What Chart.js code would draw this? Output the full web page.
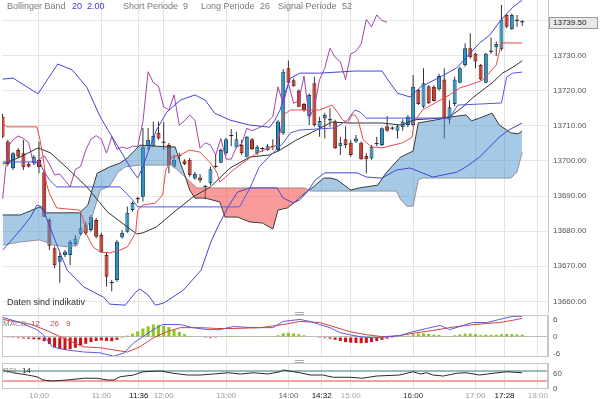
<!DOCTYPE html>
<html><head><meta charset="utf-8">
<script src="https://cdn.jsdelivr.net/npm/chart.js@4.4.1/dist/chart.umd.min.js"></script>
<style>
html,body{margin:0;padding:0;background:#fff;width:600px;height:399px;overflow:hidden;font-family:"Liberation Sans",Arial,sans-serif;}
#wrap{position:relative;width:600px;height:399px;}
canvas{position:absolute;left:0;}
.t{position:absolute;font-size:9px;line-height:9px;white-space:nowrap;color:#7a7a7a;}
.s{position:absolute;font-size:8px;line-height:8px;white-space:nowrap;color:#8a8a8a;}
.b{color:#3b3bd0;}
.grip{position:absolute;left:295px;width:9px;height:1px;border-top:1px solid #aaa;border-bottom:1px solid #aaa;background:#fff;}
#price{position:absolute;left:549px;top:17px;width:44px;height:10px;border:1px solid #9a9a9a;background:#e9e9e9;font-size:8px;line-height:10px;color:#222;padding-left:3px;}
</style></head><body>
<div id="wrap">
<canvas id="main" width="600" height="313" style="top:0"></canvas>
<canvas id="macd" width="600" height="42" style="top:315px"></canvas>
<canvas id="rsi" width="600" height="36" style="top:363px"></canvas>

<div class="t" style="left:7px;top:2px">Bollinger Band</div>
<div class="t b" style="left:72px;top:2px">20</div>
<div class="t b" style="left:87px;top:2px">2.00</div>
<div class="t" style="left:123px;top:2px">Short Periode</div>
<div class="t" style="left:183px;top:2px">9</div>
<div class="t" style="left:201px;top:2px">Long Periode</div>
<div class="t" style="left:260px;top:2px">26</div>
<div class="t" style="left:278px;top:2px">Signal Periode</div>
<div class="t" style="left:342px;top:2px">52</div>
<div class="t" style="left:7px;top:298px;color:#333">Daten sind indikativ</div>
<div class="s" style="left:3px;top:320px">MACD</div>
<div class="s" style="left:31px;top:320px;color:#d04848">12</div>
<div class="s" style="left:50px;top:320px;color:#d04848">26</div>
<div class="s" style="left:66px;top:320px;color:#d04848">9</div>
<div class="s" style="left:3px;top:367px">RSI</div>
<div class="s" style="left:22px;top:367px;color:#333">14</div>
<div class="grip" style="top:312px"></div>
<div class="grip" style="top:360px"></div>
<div id="price">13739.50</div>
</div>
<script>
// ---------- DATA ----------
const times = ["09:25","09:30","09:35","09:40","09:45","09:50","09:55",
"10:00","10:05","10:10","10:15","10:20","10:25","10:30","10:35","10:40","10:45","10:50","10:55",
"11:00","11:05","11:10","11:15","11:20","11:25","11:30","11:35","11:40","11:45","11:50","11:55",
"12:00","12:05","12:10","12:15","12:20","12:25","12:30","12:35","12:40","12:45","12:50","12:55",
"13:00","13:05","13:10","13:15","13:20","13:25","13:30","13:35","13:40","13:45","13:50","13:55",
"14:00","14:05","14:10","14:15","14:20","14:25","14:30","14:35","14:40","14:45","14:50","14:55",
"15:00","15:05","15:10","15:15","15:20","15:25","15:30","15:35","15:40","15:45","15:50","15:55",
"16:00","16:05","16:10","16:15","16:20","16:25","16:30","16:35","16:40","16:45","16:50","16:55",
"17:00","17:05","17:10","17:15","17:20","17:25","17:30","17:35","17:40","17:45"];

const opens = [13712.6,13705.5,13697.9,13703.1,13702.2,13699.1,13699.3,13700.3,13696.8,13683.2,
13675.1,13671.3,13673.2,13673.2,13676.3,13679.2,13681.7,13680.3,13683.2,13678.9,
13673.2,13665.2,13666.1,13678.2,13679.8,13686.0,13689.1,13689.8,13704.2,13704.2,
13708.0,13705.3,13704.5,13698.3,13701.4,13700.1,13700.3,13695.0,13695.3,13692.7,
13693.6,13698.3,13699.5,13702.2,13707.1,13703.9,13704.5,13701.2,13706.2,13702.2,
13703.4,13703.1,13704.0,13703.1,13707.9,13726.4,13723.0,13720.0,13716.2,13712.8,
13722.1,13709.6,13712.1,13711.7,13711.2,13704.2,13706.2,13705.2,13705.5,13705.2,
13701.4,13700.7,13704.8,13704.5,13709.9,13709.3,13708.6,13709.6,13710.2,13710.2,
13720.2,13715.4,13721.3,13721.1,13720.4,13723.2,13711.7,13716.2,13722.3,13727.3,
13732.1,13730.5,13727.3,13722.3,13731.1,13732.4,13731.8,13741.6,13737.5,13739.9,
13739.5];
const highs = [13713.4,13706.0,13702.6,13703.7,13706.0,13699.7,13701.7,13705.5,13697.4,13683.7,
13675.6,13673.8,13674.6,13677.5,13678.9,13685.2,13682.7,13684.6,13683.7,13679.5,
13673.8,13666.1,13677.5,13680.3,13687.0,13688.4,13689.8,13709.4,13709.4,13711.2,
13711.2,13711.1,13705.1,13701.7,13702.3,13700.5,13700.8,13696.9,13696.3,13693.1,
13698.3,13702.0,13703.6,13706.5,13709.1,13708.3,13706.0,13707.1,13706.5,13704.5,
13703.9,13704.8,13706.2,13711.7,13726.2,13728.5,13723.5,13720.4,13716.6,13719.3,
13724.0,13712.6,13713.7,13715.0,13711.7,13706.9,13709.9,13706.0,13707.4,13705.5,
13702.2,13704.5,13706.9,13709.6,13712.8,13709.9,13710.2,13711.9,13713.1,13724.5,
13720.5,13726.4,13721.6,13721.6,13724.8,13726.4,13717.3,13724.0,13726.8,13733.5,
13736.4,13730.8,13727.6,13730.8,13735.2,13734.0,13744.4,13741.9,13741.9,13741.6,
13740.1];
const lows = [13706.5,13698.5,13697.4,13700.8,13697.4,13698.1,13698.8,13696.5,13684.0,13674.6,
13669.4,13665.3,13672.6,13670.3,13675.6,13678.6,13678.9,13679.8,13678.0,13673.8,
13664.2,13662.9,13665.6,13677.9,13679.5,13685.5,13688.0,13688.4,13703.1,13704.0,
13706.0,13703.1,13696.5,13697.9,13700.3,13698.8,13695.5,13694.6,13693.8,13689.1,
13693.1,13697.9,13699.3,13701.7,13704.2,13703.6,13701.7,13701.0,13703.1,13701.7,
13702.6,13702.9,13703.1,13702.6,13707.4,13722.1,13721.1,13715.3,13714.0,13710.2,
13709.7,13706.9,13706.4,13709.7,13703.4,13701.7,13703.6,13701.2,13705.1,13700.3,
13696.5,13700.3,13704.2,13704.2,13708.3,13708.8,13706.4,13708.6,13709.6,13709.7,
13715.9,13715.0,13716.2,13716.9,13720.0,13706.4,13710.5,13715.6,13722.1,13726.8,
13729.2,13726.4,13723.0,13722.1,13730.5,13729.9,13731.4,13737.8,13737.3,13738.2,
13738.4];
const closes = [13706.9,13699.1,13702.2,13701.2,13698.2,13698.3,13701.2,13698.2,13684.1,13675.8,
13670.3,13672.9,13674.1,13677.0,13677.9,13680.8,13679.4,13684.1,13678.4,13674.1,
13667.0,13665.3,13677.0,13679.5,13685.2,13688.0,13689.2,13704.0,13706.0,13707.1,
13706.4,13705.2,13698.8,13700.3,13701.5,13699.1,13696.0,13696.3,13694.4,13692.6,
13697.6,13698.4,13703.1,13706.2,13707.2,13706.2,13702.2,13706.9,13703.3,13704.0,
13703.5,13704.2,13704.1,13711.2,13725.4,13722.3,13721.3,13715.4,13714.5,13718.8,
13710.2,13711.4,13713.1,13711.6,13703.6,13705.2,13704.5,13701.7,13706.4,13700.5,
13700.5,13704.0,13704.9,13709.3,13708.6,13709.2,13709.9,13711.2,13712.6,13721.1,
13716.2,13722.1,13716.4,13717.1,13724.2,13712.1,13715.3,13723.2,13726.4,13732.1,
13729.5,13728.3,13723.2,13730.5,13731.2,13733.3,13740.3,13738.2,13741.6,13740.0,
13739.5];

// Chikou span (lagging line, plotted from 09:25 onward)
const chikou = [13689.2,13704.0,13706.0,13707.1,13706.4,13705.2,13698.8,13700.3,13701.5,13699.1,
13696.0,13696.3,13694.4,13692.6,13697.6,13698.4,13703.1,13706.2,13707.2,13706.2,
13702.2,13706.9,13703.3,13704.0,13703.5,13704.2,13704.1,13711.2,13725.4,13722.3,
13721.3,13715.4,13714.5,13718.8,13710.2,13711.4,13713.1,13711.6,13703.6,13705.2,
13704.5,13701.7,13706.4,13700.5,13700.5,13704.0,13704.9,13709.3,13708.6,13709.2,
13709.9,13711.2,13712.6,13721.1,13716.2,13722.1,13716.4,13717.1,13724.2,13712.1,
13715.3,13723.2,13726.4,13732.1,13729.5,13728.3,13723.2,13730.5,13731.2,13733.3,
13740.3,13738.2,13741.6,13740.0,13739.5];

// line series: time in minutes after midnight, value
const bbUpperMin = [565,575,599,618,632,646,659,668,678,688,695,700,705,713,723,736,750,760,769,784,803,822,827,832,837,842,851,870,904,930,936,945,957,967,986,1002,1024,1034,1043,1056,1065];
const bbUpperVal = [13723.3,13723.6,13719.1,13727.6,13725.9,13721.0,13712.5,13708.0,13703.1,13698.0,13695.1,13698.3,13702.5,13708.8,13713.9,13717.3,13718.8,13717.3,13713.6,13711.6,13710.2,13709.6,13711.6,13714.5,13719.6,13723.6,13725.0,13725.0,13725.6,13725.6,13723.0,13719.3,13718.2,13721.0,13723.9,13726.5,13733.6,13735.9,13739.6,13743.8,13745.8];
const bbMidMin = [565,582,599,611,627,646,666,685,694,700,713,729,748,765,784,803,822,832,848,867,882,897,930,949,961,986,995,1008,1017,1027,1036,1046,1056,1065];
const bbMidVal = [13699.1,13701.1,13703.7,13702.3,13698.0,13692.6,13685.4,13681.2,13679.2,13679.5,13681.2,13685.2,13689.7,13692.6,13698.0,13701.1,13701.7,13703.1,13706.0,13708.8,13711.1,13710.8,13710.8,13710.2,13711.7,13712.2,13712.5,13715.4,13717.9,13720.2,13722.2,13725.0,13726.7,13728.5];
const bbLowMin = [565,572,582,592,598,603,618,627,643,662,668,683,693,697,705,712,720,739,756,765,772,782,791,803,829,835,845,851,858,866,875,906,915,930,944,957,979,1002,1011,1024,1043,1052,1065];
const bbLowVal = [13674.6,13676.9,13680.3,13684.0,13687.4,13686.9,13675.5,13668.9,13664.1,13661.2,13659.2,13658.9,13662.6,13663.5,13661.8,13658.9,13659.5,13663.2,13668.9,13676.6,13681.2,13686.9,13691.1,13692.3,13692.3,13689.4,13688.0,13688.9,13691.1,13694.6,13696.6,13696.6,13695.4,13695.1,13697.4,13698.0,13695.4,13696.8,13698.3,13701.1,13706.8,13708.8,13710.8];
const tenkanMin = [565,569,598,601,604,607,610,617,627,639,642,646,652,659,668,678,685,693,695,700,712,719,722,728,736,745,755,765,771,774,787,796,810,822,829,832,835,842,870,882,888,892,897,901,904,907,912,920,930,949,955,959,961,969,986,995,1005,1014,1027,1040,1043,1045,1065];
const tenkanVal = [13710.8,13709.7,13709.7,13706.0,13701.1,13693.7,13690.8,13686.6,13686.3,13686.0,13684.0,13678.9,13675.5,13674.0,13673.8,13674.6,13675.5,13679.5,13686.0,13687.4,13688.0,13690.3,13697.4,13701.1,13701.7,13703.1,13702.5,13699.4,13696.8,13694.0,13697.4,13699.4,13702.3,13703.7,13704.5,13708.0,13713.1,13714.5,13714.5,13715.9,13713.6,13711.7,13710.8,13713.1,13713.1,13711.7,13706.0,13704.0,13703.7,13705.1,13706.0,13706.8,13711.1,13714.5,13717.3,13718.8,13720.8,13721.6,13723.0,13727.3,13731.0,13733.6,13733.6];
const kijunMin = [565,601,604,610,617,678,690,695,793,803,812,825,835,842,851,885,897,904,909,915,995,1003,1045,1050,1056,1065];
const kijunVal = [13699.7,13699.7,13697.4,13694.6,13692.6,13692.6,13688.9,13686.9,13686.9,13692.3,13698.3,13702.3,13705.1,13708.0,13708.8,13709.4,13711.7,13714.5,13713.9,13712.2,13712.2,13715.9,13716.5,13723.9,13725.0,13725.3];
const spanAMin = [565,582,601,607,639,647,652,656,668,678,685,697,723,731,736,741,745,750,760,774,779,791,803,815,825,830,839,845,856,864,874,881,887,900,908,926,934,948,960,965,986,995,1011,1016,1024,1036,1043,1054,1061,1065];
const spanAVal = [13684.6,13684.6,13686.9,13685.2,13685.2,13687.4,13692.6,13696.5,13698.3,13699.4,13700.8,13704.5,13704.0,13704.0,13699.4,13695.4,13691.7,13689.4,13689.4,13688.3,13684.0,13684.0,13682.6,13682.3,13680.6,13686.0,13686.6,13688.0,13690.8,13692.6,13695.1,13695.1,13694.6,13691.7,13692.3,13693.1,13696.6,13701.1,13702.8,13710.8,13711.9,13712.5,13713.1,13711.4,13712.2,13713.6,13710.2,13708.0,13707.7,13708.5];
const spanBMin = [565,582,601,614,627,637,639,646,651,654,659,668,676,683,697,728,752,856,861,944,948,954,960,965,969,1054,1060,1065];
const spanBVal = [13676.0,13676.9,13677.5,13676.0,13675.5,13676.0,13678.3,13681.2,13684.0,13686.9,13691.7,13692.8,13696.8,13698.3,13698.8,13698.8,13692.3,13692.3,13691.4,13691.4,13688.9,13687.1,13687.1,13694.6,13695.1,13695.1,13696.8,13702.5];

const macdMin = [565,582,598,604,613,627,643,659,672,682,691,700,710,719,736,748,762,774,787,806,825,835,851,861,870,880,890,899,909,921,938,947,960,973,986,995,1005,1017,1031,1043,1056,1065];
const macdVal = [6.9,5.1,2.6,0.8,-3.5,-4.6,-5.3,-5.6,-6.8,-5.6,-2.1,0.1,2.6,4.4,4.4,3.3,2.6,2.6,3.7,3.3,3.3,5.5,6.2,5.5,4.4,3.3,1.5,0.8,0.1,-0.3,0.1,0.5,1.9,3.0,4.1,2.6,3.7,5.1,5.1,6.2,7.3,7.3];
const signalMin = [565,593,610,627,643,659,672,685,697,710,723,736,755,772,787,813,835,851,870,883,899,915,931,947,963,979,995,1011,1031,1043,1056,1065];
const signalVal = [6.2,4.4,1.9,-1.0,-3.5,-3.8,-4.6,-5.3,-3.5,-0.3,1.9,3.3,3.3,3.0,3.0,3.3,4.4,5.5,5.1,3.7,1.9,0.8,0.1,0.5,1.5,2.3,3.3,4.1,4.8,5.1,5.9,6.6];
const macdHist = [0.3,-0.1,-0.3,-0.4,-0.5,-0.6,-0.8,-0.9,-1.5,-2.5,
-3.5,-4.3,-4.6,-4.3,-3.8,-3.0,-2.4,-1.8,-1.4,-1.2,
-1.4,-1.5,-1.0,-0.3,0.5,1.2,2.0,3.0,3.8,4.4,
4.3,4.0,3.5,2.6,1.8,1.0,0.4,0.1,0,-0.3,
-0.4,-0.3,0,0.2,0.4,0.3,0.2,0.3,0.2,0.1,
0.1,0.1,0.2,0.6,1.3,1.5,1.3,1.0,0.6,0.2,
0,-0.3,-0.4,-0.6,-1.0,-1.4,-1.8,-2.0,-2.1,-2.2,
-2.1,-1.8,-1.4,-1.0,-0.6,-0.3,0.1,0.3,0.5,1.0,
1.2,1.3,1.1,0.8,0.7,0.3,0.3,0.6,0.9,1.2,
1.2,1.0,0.7,0.8,0.7,0.8,1.0,1.1,1.0,0.9,
0.8];

const rsiMin = [565,575,589,598,604,613,627,643,656,666,672,678,691,700,717,729,743,755,768,782,794,806,820,832,835,845,851,861,873,883,899,911,925,947,960,967,973,979,989,1002,1011,1024,1037,1050,1065];
const rsiVal = [74,63,54,47,34,30,34,41,41,34,34,47,54,67,70,61,54,54,58,63,58,63,58,67,74,67,63,54,54,45,45,41,50,54,67,58,63,54,50,61,63,54,61,67,63];
const rsiUpper = 70, rsiLower = 30;

const timeTicks = ["10:00","11:00","11:36","12:00","13:00","14:00","14:32","15:00","16:00","17:00","17:28","18:00"];
const priceTicks = [13660,13670,13680,13690,13700,13710,13720,13730,13740];
const macdTicks = [-6,0,6];
const rsiTicks = [0,60];

// ---------- STYLE / HELPERS ----------
const FONT = '"Liberation Sans", Arial, sans-serif';
const tickShade = ["#9a9a9a","#9a9a9a","#111","#9a9a9a","#9a9a9a","#666","#111","#aaa","#333","#9a9a9a","#111","#aaa"];
const toMin = s => { const p = s.split(':'); return (+p[0]) * 60 + (+p[1]); };
const fmt = m => { const h = Math.floor(m / 60), mm = Math.round(m - h * 60); return (h < 10 ? '0' : '') + h + ':' + (mm < 10 ? '0' : '') + mm; };
const pts = (t, v) => t.map((x, i) => ({x, y: v[i]}));
const X_MIN = 564.4, X_MAX = 1089.8;
const candleX = times.map(toMin);
const tickVals = timeTicks.map(toMin);

Chart.defaults.font.family = FONT;

function xAxis(showLabels) {
  return {
    type: 'linear', min: X_MIN, max: X_MAX, offset: false,
    afterBuildTicks: s => { s.ticks = tickVals.map(v => ({value: v})); },
    grid: {color: '#e2e2e2', drawTicks: false, offset: false},
    border: {display: false},
    ticks: {
      display: showLabels, padding: 2, maxRotation: 0, autoSkip: false,
      font: {size: 8},
      color: c => tickShade[tickVals.indexOf(c.tick.value)] || '#999',
      callback: v => fmt(v)
    },
    afterFit: s => { s.height = showLabels ? 10.5 : 0; s.paddingLeft = 0; s.paddingRight = 0; }
  };
}
function yAxis(min, max, ticks, labelCb, gridColor) {
  return {
    position: 'right', min, max,
    afterBuildTicks: s => { s.ticks = ticks.map(v => ({value: v})); },
    grid: {color: gridColor, drawTicks: false},
    border: {display: true, color: '#c4c4c4'},
    ticks: {padding: 5, font: {size: 8}, color: '#555', callback: labelCb},
    afterFit: s => { s.width = 52; s.paddingTop = 0; s.paddingBottom = 0; }
  };
}
const panelBorder = {
  id: 'panelBorder',
  afterDraw(chart) {
    const a = chart.chartArea, c = chart.ctx;
    c.save(); c.strokeStyle = '#c8c8c8'; c.lineWidth = 1;
    c.strokeRect(Math.round(a.left) + 0.5, Math.round(a.top) + 0.5, Math.round(a.right - a.left) - 1, Math.round(a.bottom - a.top) - 1);
    c.restore();
  }
};
const baseOpts = {
  responsive: false, animation: false, devicePixelRatio: 1,
  layout: {padding: {left: 2, right: 0, top: 0, bottom: 0}},
  plugins: {legend: {display: false}, tooltip: {enabled: false}},
  elements: {point: {radius: 0}, line: {tension: 0, borderWidth: 1}}
};
const line = (data, color, order, extra) => Object.assign({type: 'line', data, borderColor: color, borderWidth: 1, pointRadius: 0, fill: false, order}, extra || {});

// ---------- MAIN PANEL ----------
const UP = '#2b93c8', UP_B = '#17445f', DN = '#c63a2c', DN_B = '#6a1a12';
const isDoji = i => Math.abs(closes[i] - opens[i]) < 0.25;
const bodyFill = candleX.map((_, i) => isDoji(i) ? '#222' : (closes[i] > opens[i] ? UP : DN));
const bodyBorder = candleX.map((_, i) => isDoji(i) ? '#222' : (closes[i] > opens[i] ? UP_B : DN_B));
const bodyBW = candleX.map((_, i) => isDoji(i) ? 0 : 1);

new Chart(document.getElementById('main'), {
  type: 'line',
  data: {
    datasets: [
      {type: 'bar', data: candleX.map((x, i) => ({x, y: [lows[i], highs[i]]})), backgroundColor: '#333', grouped: false, maxBarThickness: 1, barPercentage: 1, order: 20},
      {type: 'bar', data: candleX.map((x, i) => ({x, y: [opens[i], closes[i]]})), backgroundColor: bodyFill, borderColor: bodyBorder, borderWidth: bodyBW, borderSkipped: false, minBarLength: 1, grouped: false, maxBarThickness: 4, barPercentage: 1, order: 19},
      line(pts(spanBMin, spanBVal), '#9a9a9a', 12),
      line(pts(spanAMin, spanAVal), '#3a3a3a', 11, {fill: {target: 2, above: 'rgba(78,148,205,0.5)', below: 'rgba(246,72,72,0.55)'}}),
      line(pts(candleX.slice(0, chikou.length), chikou), '#a444a4', 6),
      line(pts(bbUpperMin, bbUpperVal), '#4545d6', 5),
      line(pts(bbLowMin, bbLowVal), '#4545d6', 5),
      line(pts(bbMidMin, bbMidVal), '#333333', 4),
      line(pts(kijunMin, kijunVal), '#5656e2', 3),
      line(pts(tenkanMin, tenkanVal), '#e64c4c', 2)
    ]
  },
  options: Object.assign({}, baseOpts, {
    scales: {
      x: xAxis(false),
      y: yAxis(13656.67, 13745.84, priceTicks, v => v >= 13740 ? '' : v.toFixed(2), '#e6e6e6')
    }
  })
});

// ---------- MACD PANEL ----------
new Chart(document.getElementById('macd'), {
  type: 'line',
  data: {
    datasets: [
      {type: 'bar', data: candleX.map((x, i) => ({x, y: macdHist[i]})), backgroundColor: macdHist.map(v => v >= 0 ? '#8cc81e' : '#cc1212'), grouped: false, maxBarThickness: 3, barPercentage: 1, order: 10},
      line(pts(signalMin, signalVal), '#d84040', 3),
      line(pts(macdMin, macdVal), '#5a5ae0', 2)
    ]
  },
  options: Object.assign({}, baseOpts, {
    scales: {
      x: xAxis(false),
      y: yAxis(-7.07, 7.77, macdTicks, v => String(v), c => c.tick.value === 0 ? '#bdbdbd' : 'rgba(0,0,0,0)')
    }
  }),
  plugins: [panelBorder]
});

// ---------- RSI PANEL ----------
new Chart(document.getElementById('rsi'), {
  type: 'line',
  data: {
    datasets: [
      line([{x: X_MIN, y: rsiLower}, {x: X_MAX, y: rsiLower}], '#f4a2a2', 5, {borderWidth: 2}),
      line([{x: X_MIN, y: rsiUpper}, {x: X_MAX, y: rsiUpper}], '#3c7474', 4),
      line(pts(rsiMin, rsiVal), '#2a2a2a', 2)
    ]
  },
  options: Object.assign({}, baseOpts, {
    scales: {
      x: xAxis(true),
      y: yAxis(0, 102, rsiTicks, v => String(v), 'rgba(0,0,0,0)')
    }
  }),
  plugins: [panelBorder]
});
</script>
</body></html>
